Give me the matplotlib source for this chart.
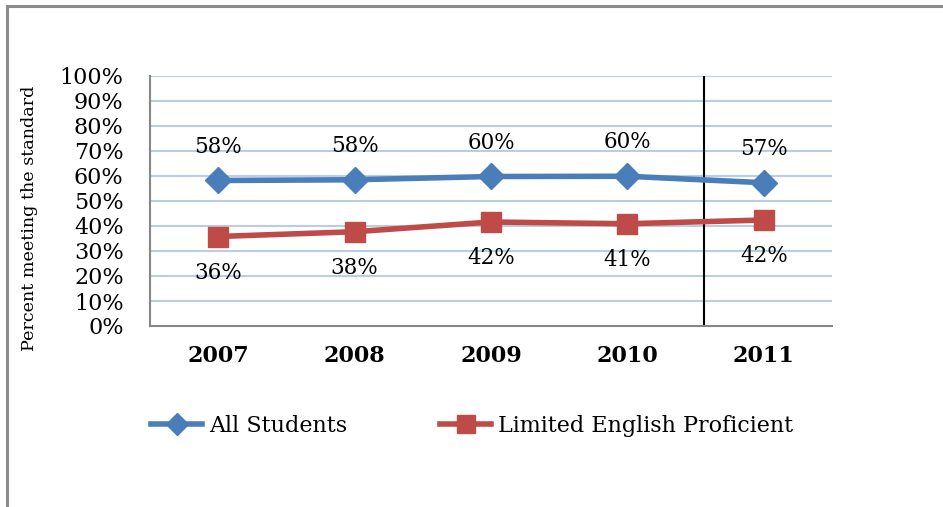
import matplotlib
matplotlib.use('Agg')
import matplotlib.pyplot as plt
from matplotlib.lines import Line2D

years = ['2007', '2008', '2009', '2010', '2011']
all_students = [58.2, 58.5, 59.8, 59.9, 57.3]
lep = [35.8, 37.7, 41.6, 40.9, 42.4]
all_labels = ['58%', '58%', '60%', '60%', '57%']
lep_labels = ['36%', '38%', '42%', '41%', '42%']
yticks = list(range(0, 101, 10))

blue = '#4a7ebb'
red = '#be4b48'
serif = 'DejaVu Serif'

W, H = 943, 507
fig = plt.figure(figsize=(W / 100, H / 100), dpi=100)

# chart border (only left and top visible)
fig.add_artist(Line2D([7 / W, 7 / W], [0, 1 - 6 / H], color='#8c8c8c', lw=2.2))
fig.add_artist(Line2D([7 / W, 1], [1 - 6 / H, 1 - 6 / H], color='#8c8c8c', lw=2.2))

ax = fig.add_axes([150 / W, 1 - 326 / H, 682 / W, 250 / H])
x = list(range(len(years)))

for t in yticks[1:]:
    ax.axhline(t, color='#b9cde5', lw=1.5, zorder=0)

ax.plot(x, all_students, color=blue, lw=4, marker='D', ms=13, zorder=3)
ax.plot(x, lep, color=red, lw=4, marker='s', ms=14, zorder=3)

for i in x:
    ax.text(i, all_students[i] + 13.5, all_labels[i], ha='center', va='center',
            fontsize=15.5, family=serif)
    ax.text(i, lep[i] - 14.5, lep_labels[i], ha='center', va='center',
            fontsize=15.5, family=serif)

ax.axvline(3.56, color='black', lw=1.5, zorder=2)

ax.set_xlim(-0.5, 4.5)
ax.set_ylim(0, 100)
ax.set_yticks(yticks)
ax.set_yticklabels([f'{t}%' for t in yticks], family=serif, fontsize=16)
ax.set_xticks(x)
ax.set_xticklabels(years, family=serif, fontsize=16, fontweight='bold')
ax.tick_params(axis='y', length=0, pad=19)
ax.tick_params(axis='x', length=0, pad=14)
ax.spines['right'].set_visible(False)
ax.spines['top'].set_visible(False)
ax.spines['left'].set_color('#868686')
ax.spines['bottom'].set_color('#868686')
ax.spines['left'].set_linewidth(1.5)
ax.spines['bottom'].set_linewidth(1.5)
ax.set_ylabel('Percent meeting the standard', family=serif, fontsize=12.6)
ax.yaxis.set_label_coords(-0.164, 0.43)

handles = [Line2D([0], [0], color=blue, lw=4, marker='D', ms=11),
           Line2D([0], [0], color=red, lw=4, marker='s', ms=13)]
fig.legend(handles, ['All Students', 'Limited English Proficient'],
           loc='center left', bbox_to_anchor=(131 / W, 1 - 426 / H), ncol=2,
           frameon=False, prop={'family': serif, 'size': 16},
           handlelength=2.3, handletextpad=0.3, columnspacing=4.2)

fig.savefig('out.png', dpi=100)
